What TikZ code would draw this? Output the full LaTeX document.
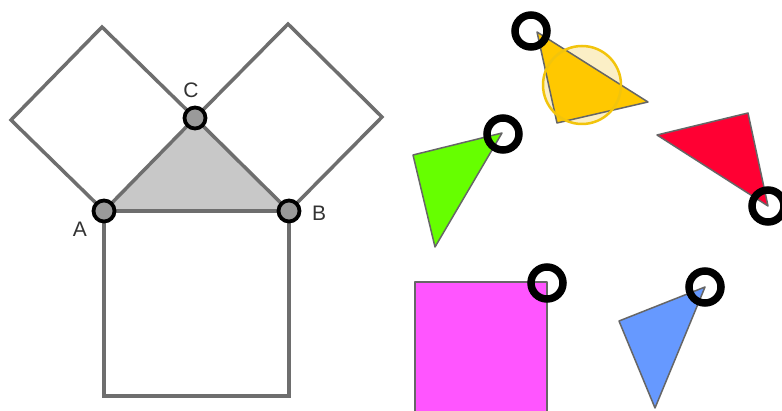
\documentclass[tikz,border=0pt]{standalone}
\usepackage{fontspec}
\setmainfont{Liberation Sans}
\definecolor{edgegray}{HTML}{6E6E6E}
\definecolor{trifill}{HTML}{C8C8C8}
\definecolor{labelgray}{HTML}{333333}
\definecolor{ptfill}{HTML}{9A9A9A}
\definecolor{shapeedge}{HTML}{666666}
\definecolor{yellowtri}{HTML}{FFC800}
\definecolor{yellowring}{HTML}{F2C40C}
\definecolor{creamfill}{HTML}{FBEFC6}
\definecolor{greentri}{HTML}{66FF00}
\definecolor{redtri}{HTML}{FF0033}
\definecolor{magsq}{HTML}{FF55FF}
\definecolor{bluetri}{HTML}{6699FF}
\tikzset{
  sqline/.style={draw=edgegray, line width=3.5pt, line join=miter},
  ptmark/.style={circle, draw=black, line width=3.8pt, fill=ptfill, minimum size=21pt, inner sep=0pt},
  lbl/.style={text=labelgray, font=\fontsize{21}{23}\selectfont, inner sep=0pt},
  shapeline/.style={draw=shapeedge, line width=1.5pt, line join=round},
  ring/.style={draw=black, line width=7.5pt},
}
\begin{document}
\begin{tikzpicture}[x=1pt,y=-1pt]
\useasboundingbox (0,0) rectangle (782,411);
\fill[white] (0,0) rectangle (782,411);
\clip (0,0) rectangle (782,411);

% --- left figure: Pythagoras ---
\coordinate (A) at (104,211);
\coordinate (B) at (289,211);
\coordinate (C) at (195,118);
\coordinate (L1) at (102,27);
\coordinate (L2) at (11,120);
\coordinate (R1) at (288,24);
\coordinate (R2) at (382,117);
\coordinate (D1) at (104,396);
\coordinate (D2) at (289,396);

\fill[trifill] (A) -- (C) -- (B) -- cycle;
\draw[sqline] (A) -- (C) -- (L1) -- (L2) -- cycle;
\draw[sqline] (C) -- (B) -- (R2) -- (R1) -- cycle;
\draw[sqline] (A) -- (D1) -- (D2) -- (B) -- cycle;

\node[ptmark] (pA) at (A) {};
\node[ptmark] (pB) at (B) {};
\node[ptmark] (pC) at (C) {};
\node[lbl] (tA) at (80,229) {A};
\node[lbl] (tB) at (319,213) {B};
\node[lbl] (tC) at (191,90) {C};

% --- right side: coloured pieces ---
% yellow triangle with circle
\fill[creamfill] (582,85) circle[radius=39];
\filldraw[fill=yellowtri, shapeline] (537,32) -- (648,102) -- (557,123) -- cycle;
\draw[yellowring, line width=2.5pt] (582,85) circle[radius=39];
\draw[ring] (531,31) circle[radius=16];

% green triangle
\filldraw[fill=greentri, shapeline] (502,133) -- (413,155) -- (435,247) -- cycle;
\draw[ring] (503,134) circle[radius=16];

% red triangle
\filldraw[fill=redtri, shapeline] (657,135) -- (748,113) -- (768,206) -- cycle;
\draw[ring] (768,206) circle[radius=16];

% magenta square
\filldraw[fill=magsq, shapeline] (415,282) -- (547,282) -- (547,416) -- (415,416) -- cycle;
\draw[ring] (547,283) circle[radius=16];

% blue triangle
\filldraw[fill=bluetri, shapeline] (705,287) -- (619,321) -- (655,408) -- cycle;
\draw[ring] (705,287) circle[radius=16];
\end{tikzpicture}
\end{document}
